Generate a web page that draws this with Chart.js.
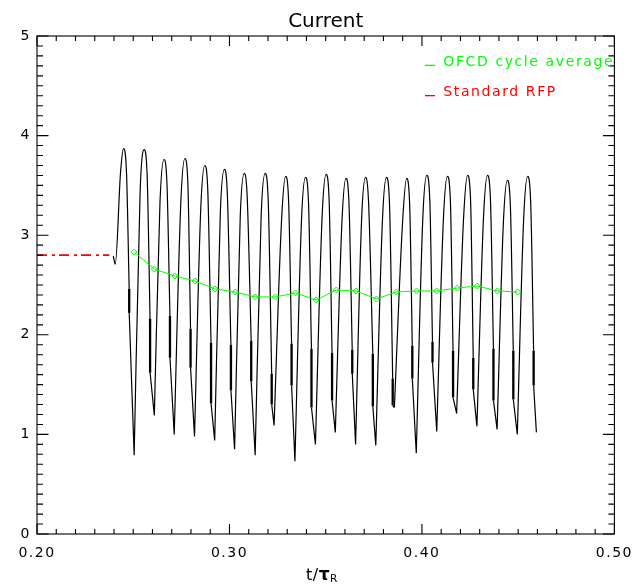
<!DOCTYPE html>
<html><head><meta charset="utf-8">
<script src="https://cdn.jsdelivr.net/npm/chart.js@4.4.1/dist/chart.umd.min.js"></script>
<style>html,body{margin:0;padding:0;background:#fff;}canvas{display:block;}</style>
</head><body>
<canvas id="c" width="641" height="585"></canvas>
<script>
// ---- data ----
const titleText = 'Current';
const legendLabels = ['OFCD cycle average', 'Standard RFP'];
const xTickLabels = ['0.20', '0.30', '0.40', '0.50'];
const yTickLabels = ['0', '1', '2', '3', '4', '5'];

// start of the OFCD current trace
const startT = [0.23963, 0.24066];
const startV = [2.79, 2.71];
// per-cycle rising shoulder, peak, falling shoulder
const riseT = [0.24340,0.25357,0.26390,0.27475,0.28509,0.29526,0.30560,0.31645,0.32709,0.33742,0.34812,0.35845,0.36863,0.37948,0.38996,0.40045,0.41115,0.42163,0.43197,0.44230,0.45284];
const riseV = [3.63,3.43,3.33,3.34,3.27,3.23,3.19,3.19,3.16,3.15,3.18,3.14,3.15,3.15,3.14,3.17,3.16,3.17,3.17,3.12,3.16];
const peakT = [0.24495,0.25564,0.26597,0.27682,0.28716,0.29733,0.30767,0.31852,0.32916,0.33949,0.35019,0.36052,0.37070,0.38155,0.39203,0.40252,0.41322,0.42370,0.43404,0.44437,0.45491];
const peakV = [3.87,3.86,3.76,3.77,3.70,3.66,3.62,3.62,3.59,3.58,3.61,3.57,3.58,3.58,3.57,3.60,3.59,3.60,3.60,3.55,3.59];
const fallT = [0.24650,0.25719,0.26752,0.27837,0.28871,0.29888,0.30922,0.32007,0.33071,0.34104,0.35174,0.36207,0.37225,0.38310,0.39358,0.40407,0.41477,0.42525,0.43559,0.44592,0.45646];
const fallV = [3.63,3.62,3.52,3.53,3.46,3.42,3.38,3.38,3.35,3.34,3.37,3.33,3.34,3.34,3.33,3.36,3.35,3.36,3.36,3.31,3.35];
// sudden drops on the falling side
const jumpT = [0.24789,0.25874,0.26907,0.27977,0.29041,0.30075,0.31128,0.32193,0.33226,0.34259,0.35329,0.36378,0.37447,0.38480,0.39498,0.40547,0.41616,0.42665,0.43714,0.44746,0.45802];
const jumpTop = [2.46,2.16,2.19,2.06,1.92,1.90,1.94,1.61,1.91,1.86,1.82,1.85,1.81,1.56,1.89,1.93,1.84,1.77,1.86,1.84,1.84];
const jumpBot = [2.22,1.62,1.77,1.67,1.31,1.44,1.53,1.30,1.49,1.27,1.34,1.61,1.28,1.29,1.56,1.72,1.37,1.45,1.34,1.35,1.49];
// per-cycle troughs (last one = end of trace)
const troughT = [0.25048,0.26096,0.27130,0.28184,0.29232,0.30266,0.31335,0.32317,0.33401,0.34466,0.35499,0.36553,0.37602,0.38568,0.39705,0.40769,0.41802,0.42856,0.43905,0.44954,0.45946];
const troughV = [0.79,1.19,1.00,0.98,0.94,0.85,0.79,1.09,0.73,0.90,1.02,0.90,0.89,1.27,0.81,1.03,1.21,1.08,1.05,1.00,1.02];
// OFCD cycle average
const avgT = [0.25048,0.26096,0.27166,0.28214,0.29248,0.30302,0.31335,0.32384,0.33433,0.34502,0.35551,0.36584,0.37638,0.38671,0.39720,0.40769,0.41838,0.42872,0.43920,0.44974];
const avgV = [2.83,2.66,2.59,2.54,2.46,2.43,2.38,2.38,2.42,2.35,2.45,2.44,2.36,2.43,2.44,2.44,2.47,2.49,2.44,2.43];
// Standard RFP level
const rfpT = [0.200, 0.2376];
const rfpV = [2.80, 2.80];

// ---- build datasets ----
// The trace is split into runs (null gaps) so troughs stay sharp:
// [trough, rise, peak, fall, drop-top] and [drop-bottom, trough].
const curve = [];
const gap = (t) => curve.push({x: t, y: null});
startT.forEach((t, i) => curve.push({x: t, y: startV[i]}));
peakT.forEach((t, i) => {
  if (i > 0) curve.push({x: troughT[i - 1], y: troughV[i - 1]});
  curve.push({x: riseT[i], y: riseV[i]});
  curve.push({x: t, y: peakV[i]});
  curve.push({x: fallT[i], y: fallV[i]});
  curve.push({x: jumpT[i], y: jumpTop[i]});
  gap(jumpT[i]);
  curve.push({x: jumpT[i] + 0.00002, y: jumpBot[i]});
  curve.push({x: troughT[i], y: troughV[i]});
  gap(troughT[i]);
});
const jumps = [];
jumpT.forEach((t, i) => {
  jumps.push({x: t, y: jumpTop[i]});
  jumps.push({x: t + 0.00002, y: jumpBot[i]});
  jumps.push({x: t + 0.00003, y: null});
});
const avg = avgT.map((t, i) => ({x: t, y: avgV[i]}));
const rfp = rfpT.map((t, i) => ({x: t, y: rfpV[i]}));

const FONT = '"DejaVu Sans", sans-serif';

const decor = {
  id: 'decor',
  beforeDraw(chart) { chart.ctx.letterSpacing = '1.5px'; },
  afterDraw(chart) {
    const ctx = chart.ctx, xs = chart.scales.x, ys = chart.scales.y, a = chart.chartArea;
    ctx.save();
    ctx.letterSpacing = '0px';
    ctx.strokeStyle = '#000';
    ctx.lineWidth = 1.1;
    ctx.strokeRect(a.left, a.top, a.right - a.left, a.bottom - a.top);
    ctx.beginPath();
    for (let k = 0; k <= 30; k++) {
      const px = xs.getPixelForValue(0.2 + k * 0.01);
      const len = (k % 10 === 0) ? 10 : 5;
      ctx.moveTo(px, a.bottom); ctx.lineTo(px, a.bottom - len);
      ctx.moveTo(px, a.top); ctx.lineTo(px, a.top + len);
    }
    for (let k = 0; k <= 50; k++) {
      const py = ys.getPixelForValue(k * 0.1);
      const len = (k % 10 === 0) ? 11.5 : 6;
      ctx.moveTo(a.left, py); ctx.lineTo(a.left + len, py);
      ctx.moveTo(a.right, py); ctx.lineTo(a.right - len, py);
    }
    ctx.stroke();

    // title
    ctx.fillStyle = '#000';
    ctx.font = '20px ' + FONT;
    ctx.textAlign = 'center';
    ctx.textBaseline = 'alphabetic';
    ctx.fillText(titleText, (a.left + a.right) / 2, 27);

    // legend
    ctx.textAlign = 'left';
    ctx.font = '14px ' + FONT;
    ctx.letterSpacing = '1.6px';
    const legColors = ['#00ff00', '#ff0000'];
    const legY = [65.7, 96];
    legendLabels.forEach((lab, i) => {
      ctx.fillStyle = legColors[i];
      ctx.fillRect(425, legY[i] - 1, 10, 1.3);
      ctx.fillText(lab, 443.3, legY[i]);
    });

    // x-axis title t/τ_R
    ctx.fillStyle = '#000';
    ctx.letterSpacing = '0.5px';
    ctx.font = '16px ' + FONT;
    let x = 306;
    ctx.fillText('t/', x, 580);
    x += ctx.measureText('t/').width;
    ctx.font = 'bold 17px ' + FONT;
    ctx.fillText('\u03C4', x, 580);
    x += ctx.measureText('\u03C4').width;
    ctx.font = '10.5px ' + FONT;
    ctx.fillText('R', x, 582);
    ctx.restore();
  }
};

new Chart(document.getElementById('c'), {
  type: 'scatter',
  data: {
    datasets: [
      { label: legendLabels[0], data: avg, showLine: true, borderColor: '#00ff00', borderWidth: 1,
        pointStyle: 'rectRot', pointRadius: 3, pointBorderColor: '#00ff00', pointBackgroundColor: 'rgba(255,255,255,0)',
        pointBorderWidth: 1, order: 0 },
      { label: legendLabels[1], data: rfp, showLine: true, borderColor: '#ff0000', borderWidth: 1.6,
        borderDash: [10, 5, 3, 4], pointRadius: 0, order: 1 },
      { label: 'Current', data: curve, showLine: true, borderColor: '#000', borderWidth: 1.2,
        cubicInterpolationMode: 'monotone', spanGaps: false, pointRadius: 0, order: 2 },
      { label: 'drops', data: jumps, showLine: true, borderColor: '#000', borderWidth: 2.3,
        spanGaps: false, pointRadius: 0, order: 2 }
    ]
  },
  options: {
    responsive: false,
    animation: false,
    devicePixelRatio: 1,
    layout: { padding: { top: 36, right: 23, left: 0, bottom: 0 } },
    plugins: { legend: { display: false }, title: { display: false }, tooltip: { enabled: false } },
    scales: {
      x: {
        type: 'linear', min: 0.2, max: 0.5,
        grid: { display: false, drawTicks: false },
        border: { display: false },
        ticks: { stepSize: 0.1, padding: 11, color: '#000', font: { family: FONT, size: 14 },
          callback: (v) => xTickLabels[Math.round((v - 0.2) / 0.1)] },
        afterFit: (s) => { s.height = 51; }
      },
      y: {
        type: 'linear', min: 0, max: 5,
        grid: { display: false, drawTicks: false },
        border: { display: false },
        ticks: { stepSize: 1, padding: 6, color: '#000', font: { family: FONT, size: 14 },
          callback: (v) => yTickLabels[Math.round(v)] },
        afterFit: (s) => { s.width = 37; }
      }
    }
  },
  plugins: [decor]
});
</script>
</body></html>
